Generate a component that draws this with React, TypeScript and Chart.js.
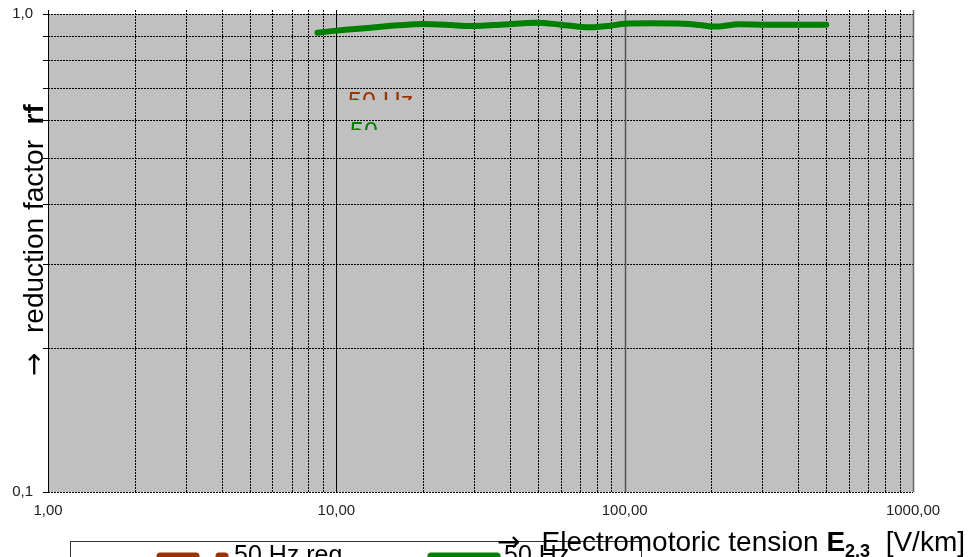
import { useEffect, useRef } from 'react';
import { Chart, registerables } from 'chart.js';

Chart.register(...registerables);

// ---- data ----
const eTension = [8.6, 10, 12.5, 16.5, 20, 25, 28, 32, 37, 50, 60, 76, 89, 100, 122, 160, 182, 205, 250, 312, 500];
const rf50Hz = [0.914, 0.923, 0.934, 0.947, 0.953, 0.948, 0.944, 0.945, 0.95, 0.959, 0.95, 0.938, 0.945, 0.954, 0.956, 0.954, 0.948, 0.941, 0.952, 0.95, 0.95];
const eTensionReg: number[] = [];
const rf50HzReg: number[] = [];
const xTickValues = [1, 10, 100, 1000];
const yTickValues = [0.1, 1];
const xGridValues = [2, 3, 4, 5, 6, 7, 8, 9, 20, 30, 40, 50, 60, 70, 80, 90, 200, 300, 400, 500, 600, 700, 800, 900];
const xMajorValues = [10, 100];
const yGridValues = [0.1, 0.2, 0.3, 0.4, 0.5, 0.6, 0.7, 0.8, 0.9, 1.0];
const seriesLabels = ['50 Hz reg', '50 Hz'];

const BROWN = '#993300';
const GREEN = '#008000';
const FONT = '"Liberation Sans", Arial, sans-serif';
const ARROW_FONT = '"DejaVu Sans", sans-serif';

type Seg = { t: string; f: string; dy?: number };

function segsWidth(ctx: CanvasRenderingContext2D, segs: Seg[]) {
  let w = 0;
  for (const s of segs) {
    ctx.font = s.f;
    w += ctx.measureText(s.t).width;
  }
  return w;
}

function drawSegs(ctx: CanvasRenderingContext2D, segs: Seg[], x: number, y: number) {
  let cx = x;
  for (const s of segs) {
    ctx.font = s.f;
    ctx.fillText(s.t, cx, y + (s.dy || 0));
    cx += ctx.measureText(s.t).width;
  }
}

const customPlugin = {
  id: 'custom',
  beforeDatasetsDraw(chart: any) {
    const { ctx, chartArea: a, scales } = chart;
    const xs = scales.x;
    const ys = scales.y;
    ctx.save();
    ctx.fillStyle = '#C0C0C0';
    ctx.fillRect(a.left, a.top, a.right - a.left, a.bottom - a.top);

    ctx.lineWidth = 1;
    ctx.strokeStyle = '#000';
    ctx.setLineDash([2, 1]);
    for (const v of yGridValues) {
      const y = Math.round(ys.getPixelForValue(v)) + 0.5;
      ctx.beginPath();
      ctx.moveTo(a.left, y);
      ctx.lineTo(a.right, y);
      ctx.stroke();
    }
    for (const v of xGridValues) {
      const x = Math.round(xs.getPixelForValue(v)) + 0.5;
      ctx.beginPath();
      ctx.moveTo(x, a.top - 4);
      ctx.lineTo(x, a.bottom);
      ctx.stroke();
    }
    ctx.setLineDash([]);
    for (const v of yGridValues) {
      const y = Math.round(ys.getPixelForValue(v)) + 0.5;
      ctx.beginPath();
      ctx.moveTo(a.left - 5, y);
      ctx.lineTo(a.left, y);
      ctx.stroke();
    }
    xMajorValues.forEach((v, i) => {
      const x = Math.round(xs.getPixelForValue(v)) + 0.5;
      ctx.strokeStyle = i === 0 ? '#000' : '#555';
      ctx.lineWidth = i === 0 ? 1 : 1.5;
      ctx.beginPath();
      ctx.moveTo(x, a.top - 4);
      ctx.lineTo(x, a.bottom);
      ctx.stroke();
    });
    ctx.strokeStyle = '#000';
    ctx.lineWidth = 1;
    ctx.beginPath();
    ctx.moveTo(Math.round(a.left) + 0.5, a.top - 4);
    ctx.lineTo(Math.round(a.left) + 0.5, a.bottom);
    ctx.stroke();
    ctx.strokeStyle = '#666';
    ctx.lineWidth = 1.5;
    ctx.beginPath();
    ctx.moveTo(Math.round(a.right) + 0.5, a.top - 4);
    ctx.lineTo(Math.round(a.right) + 0.5, a.bottom);
    ctx.stroke();
    ctx.restore();
  },
  afterDatasetsDraw(chart: any) {
    const { ctx } = chart;
    ctx.save();
    ctx.textBaseline = 'alphabetic';
    ctx.textAlign = 'left';
    ctx.save();
    ctx.beginPath();
    ctx.rect(340, 80, 100, 20);
    ctx.clip();
    ctx.fillStyle = BROWN;
    ctx.font = `25px ${FONT}`;
    ctx.fillText(seriesLabels[1], 348, 110);
    ctx.restore();
    ctx.save();
    ctx.beginPath();
    ctx.rect(340, 110, 100, 20);
    ctx.clip();
    ctx.fillStyle = GREEN;
    ctx.font = `25px ${FONT}`;
    ctx.fillText('50', 350, 140);
    ctx.restore();
    ctx.restore();
  },
  afterDraw(chart: any) {
    const { ctx } = chart;
    ctx.save();
    ctx.textBaseline = 'alphabetic';
    ctx.textAlign = 'left';

    // legend box
    ctx.fillStyle = '#fff';
    ctx.fillRect(70, 541, 571, 20);
    ctx.strokeStyle = '#333';
    ctx.lineWidth = 1;
    ctx.strokeRect(70.5, 541.5, 571, 20);
    const ds = chart.data.datasets;
    ctx.lineCap = 'round';
    ctx.strokeStyle = ds[0].borderColor;
    ctx.lineWidth = 7;
    ctx.beginPath();
    ctx.moveTo(160, 556);
    ctx.lineTo(196, 556);
    ctx.stroke();
    ctx.beginPath();
    ctx.moveTo(219, 556);
    ctx.lineTo(225, 556);
    ctx.stroke();
    ctx.strokeStyle = ds[1].borderColor;
    ctx.beginPath();
    ctx.moveTo(431, 556);
    ctx.lineTo(497, 556);
    ctx.stroke();
    ctx.fillStyle = '#000';
    ctx.font = `25px ${FONT}`;
    ctx.fillText(ds[0].label, 234, 563);
    ctx.fillText(ds[1].label, 504, 563);

    // x axis title
    ctx.fillStyle = '#000';
    ctx.font = `28px ${ARROW_FONT}`;
    ctx.fillText('→', 497, 551);
    const xSegs: Seg[] = [
      { t: 'Electromotoric tension ', f: `28px ${FONT}` },
      { t: 'E', f: `bold 28px ${FONT}` },
      { t: '2,3', f: `bold 18px ${FONT}`, dy: 6 },
      { t: '  [V/km]', f: `28px ${FONT}` },
    ];
    const w = segsWidth(ctx, xSegs);
    drawSegs(ctx, xSegs, 965 - w, 551);

    // y axis title
    ctx.translate(43, 0);
    ctx.rotate(-Math.PI / 2);
    ctx.font = `28px ${ARROW_FONT}`;
    ctx.fillText('→', -376, 0);
    drawSegs(ctx, [
      { t: 'reduction factor  ', f: `28px ${FONT}` },
      { t: 'rf', f: `bold 28px ${FONT}` },
    ], -333, 0);
    ctx.restore();
  },
};

export default function App() {
  const ref = useRef<HTMLCanvasElement | null>(null);
  useEffect(() => {
    document.body.style.margin = '0';
    const canvas = ref.current!;
    const chart = new Chart(canvas, {
      type: 'line',
      data: {
        datasets: [
          {
            label: seriesLabels[0],
            data: eTensionReg.map((x, i) => ({ x, y: rf50HzReg[i] })),
            borderColor: BROWN,
            backgroundColor: BROWN,
            borderWidth: 6,
            pointRadius: 0,
          },
          {
            label: seriesLabels[1],
            data: eTension.map((x, i) => ({ x, y: rf50Hz[i] })),
            borderColor: GREEN,
            backgroundColor: GREEN,
            borderWidth: 6,
            pointRadius: 0,
            cubicInterpolationMode: 'monotone',
            borderCapStyle: 'round',
            borderJoinStyle: 'round',
          },
        ],
      },
      options: {
        responsive: false,
        animation: false,
        devicePixelRatio: 1,
        layout: { padding: { left: 0, top: 14, right: 56, bottom: 0 } },
        plugins: { legend: { display: false }, tooltip: { enabled: false } },
        scales: {
          x: {
            type: 'logarithmic',
            min: 1,
            max: 1000,
            grid: { display: false, drawTicks: false },
            border: { display: false },
            afterBuildTicks: (s: any) => {
              s.ticks = xTickValues.map((v) => ({ value: v }));
            },
            afterFit: (s: any) => {
              s.height = 65;
              s.paddingLeft = 0;
              s.paddingRight = 0;
            },
            ticks: {
              autoSkip: false,
              maxRotation: 0,
              padding: 10,
              color: '#222',
              font: { family: FONT, size: 15 },
              callback: (v: any) => Number(v).toFixed(2).replace('.', ','),
            },
          },
          y: {
            type: 'logarithmic',
            min: 0.1,
            max: 1,
            grid: { display: false, drawTicks: false },
            border: { display: false },
            afterBuildTicks: (s: any) => {
              s.ticks = yTickValues.map((v) => ({ value: v }));
            },
            afterFit: (s: any) => {
              s.width = 48;
              s.paddingTop = 0;
              s.paddingBottom = 0;
            },
            ticks: {
              autoSkip: false,
              padding: 15,
              color: '#222',
              font: { family: FONT, size: 15 },
              callback: (v: any) => Number(v).toFixed(1).replace('.', ','),
            },
          },
        },
      } as any,
      plugins: [customPlugin],
    });
    return () => chart.destroy();
  }, []);
  return (
    <div style={{ width: 969, height: 557, overflow: 'hidden' }}>
      <canvas ref={ref} width={969} height={557} />
    </div>
  );
}
